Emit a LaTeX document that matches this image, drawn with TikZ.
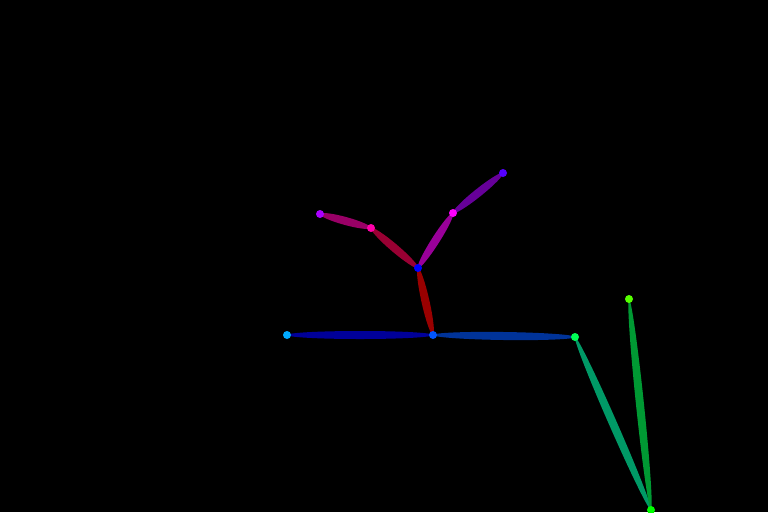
\documentclass[tikz,border=0pt]{standalone}
\usetikzlibrary{calc}
\pgfdeclarelayer{bg}
\pgfdeclarelayer{limbs}
\pgfsetlayers{bg,limbs,main}
\definecolor{kA}{RGB}{0,85,255}
\definecolor{kB}{RGB}{0,0,255}
\definecolor{kC}{RGB}{255,0,170}
\definecolor{kD}{RGB}{170,0,255}
\definecolor{kE}{RGB}{255,0,255}
\definecolor{kF}{RGB}{85,0,255}
\definecolor{kG}{RGB}{0,170,255}
\definecolor{kH}{RGB}{0,255,85}
\definecolor{kI}{RGB}{0,255,0}
\definecolor{kJ}{RGB}{85,255,0}
\definecolor{lAB}{RGB}{153,0,0}
\definecolor{lBC}{RGB}{153,0,51}
\definecolor{lCD}{RGB}{153,0,102}
\definecolor{lBE}{RGB}{153,0,153}
\definecolor{lEF}{RGB}{102,0,153}
\definecolor{lAG}{RGB}{0,0,153}
\definecolor{lAH}{RGB}{0,51,153}
\definecolor{lHI}{RGB}{0,153,102}
\definecolor{lIJ}{RGB}{0,153,51}
\newcommand\poselimb[3]{%
  \path let \p1=(#1), \p2=(#2),
    \n1={atan2(\y2-\y1,\x2-\x1)},
    \n2={veclen(\x2-\x1,\y2-\y1)/2} in
    [fill=#3] ($(\p1)!0.5!(\p2)$) circle [x radius=\n2, y radius=4pt, rotate=\n1];}
\tikzset{kp/.style={circle, inner sep=0pt, minimum size=8pt, fill=#1}}
\begin{document}
\begin{tikzpicture}[x=1pt,y=-1pt]
\begin{pgfonlayer}{bg}
\fill[black] (0,0) rectangle (768,512);
\end{pgfonlayer}
\useasboundingbox (0,0) rectangle (768,512);
\node[kp=kA] (A) at (433,335) {};
\node[kp=kB] (B) at (418,268) {};
\node[kp=kC] (C) at (371,228) {};
\node[kp=kD] (D) at (320,214) {};
\node[kp=kE] (E) at (453,213) {};
\node[kp=kF] (F) at (503,173) {};
\node[kp=kG] (G) at (287,335) {};
\node[kp=kH] (H) at (575,337) {};
\node[kp=kI] (I) at (651,510) {};
\node[kp=kJ] (J) at (629,299) {};
\begin{pgfonlayer}{limbs}
\poselimb{A.center}{B.center}{lAB}
\poselimb{B.center}{C.center}{lBC}
\poselimb{C.center}{D.center}{lCD}
\poselimb{B.center}{E.center}{lBE}
\poselimb{E.center}{F.center}{lEF}
\poselimb{A.center}{G.center}{lAG}
\poselimb{A.center}{H.center}{lAH}
\poselimb{H.center}{I.center}{lHI}
\poselimb{I.center}{J.center}{lIJ}
\end{pgfonlayer}
\end{tikzpicture}
\end{document}
